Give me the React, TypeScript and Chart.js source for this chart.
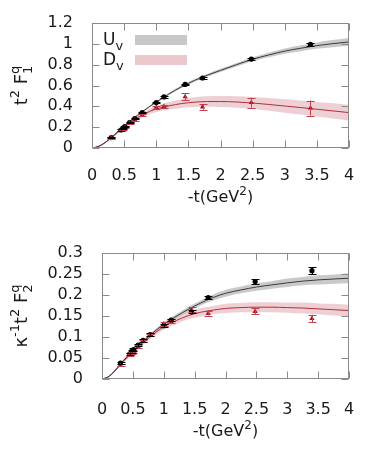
import React, { useEffect, useRef } from "react";
import { Chart, registerables } from "chart.js";

Chart.register(...registerables);

// ---------------- data ----------------
const CURVE_T = [0, 0.1, 0.2, 0.3, 0.4, 0.5, 0.6, 0.7, 0.8, 0.9, 1.0, 1.2, 1.4, 1.6, 1.8, 2.0, 2.25, 2.5, 2.75, 3.0, 3.25, 3.5, 3.75, 4.0];

const F1_UV = [0, 0.015, 0.05, 0.1, 0.155, 0.21, 0.26, 0.31, 0.355, 0.4, 0.44, 0.52, 0.59, 0.65, 0.7, 0.745, 0.8, 0.852, 0.893, 0.93, 0.958, 0.983, 1.002, 1.018];
const F1_UV_ERR = [0, 0.001, 0.002, 0.003, 0.004, 0.005, 0.006, 0.007, 0.008, 0.009, 0.01, 0.011, 0.012, 0.013, 0.014, 0.015, 0.017, 0.019, 0.022, 0.025, 0.028, 0.031, 0.034, 0.037];
const F1_DV = [0, 0.015, 0.05, 0.1, 0.15, 0.2, 0.245, 0.288, 0.322, 0.352, 0.375, 0.405, 0.427, 0.44, 0.446, 0.446, 0.442, 0.432, 0.418, 0.403, 0.388, 0.372, 0.356, 0.34];
const F1_DV_ERR = [0, 0.003, 0.006, 0.01, 0.012, 0.015, 0.018, 0.02, 0.023, 0.026, 0.03, 0.036, 0.042, 0.047, 0.05, 0.053, 0.056, 0.058, 0.061, 0.064, 0.067, 0.07, 0.073, 0.075];

const F2_UV = [0, 0.005, 0.018, 0.036, 0.052, 0.066, 0.08, 0.094, 0.107, 0.119, 0.13, 0.149, 0.166, 0.181, 0.194, 0.204, 0.212, 0.219, 0.224, 0.229, 0.233, 0.236, 0.238, 0.24];
const F2_UV_ERR = [0, 0.001, 0.002, 0.003, 0.003, 0.004, 0.004, 0.004, 0.004, 0.004, 0.005, 0.005, 0.006, 0.006, 0.007, 0.008, 0.008, 0.009, 0.009, 0.01, 0.01, 0.011, 0.011, 0.012];
const F2_DV = [0, 0.005, 0.018, 0.035, 0.05, 0.064, 0.078, 0.091, 0.103, 0.114, 0.124, 0.139, 0.151, 0.159, 0.164, 0.168, 0.17, 0.171, 0.171, 0.17, 0.169, 0.167, 0.165, 0.163];
const F2_DV_ERR = [0, 0.001, 0.002, 0.003, 0.004, 0.004, 0.005, 0.005, 0.006, 0.006, 0.007, 0.008, 0.009, 0.01, 0.01, 0.011, 0.011, 0.012, 0.012, 0.012, 0.013, 0.013, 0.014, 0.014];

const POINT_T = [0.3, 0.45, 0.48, 0.51, 0.585, 0.665, 0.78, 1.0, 1.12, 1.45, 1.72, 2.48, 3.4];

const F1_UV_PTS = [0.1, 0.173, 0.19, 0.205, 0.245, 0.283, 0.34, 0.437, 0.49, 0.61, 0.672, 0.854, 0.995];
const F1_UV_PTS_ERR = [0.008, 0.006, 0.006, 0.006, 0.006, 0.007, 0.008, 0.008, 0.008, 0.008, 0.008, 0.008, 0.012];
const F1_DV_PTS = [0.1, 0.17, 0.185, 0.2, 0.24, 0.275, 0.318, 0.392, 0.398, 0.493, 0.393, 0.436, 0.384];
const F1_DV_PTS_ERR = [0.01, 0.01, 0.01, 0.01, 0.01, 0.012, 0.012, 0.014, 0.012, 0.032, 0.025, 0.048, 0.072];

const F2_UV_PTS = [0.038, 0.06, 0.066, 0.07, 0.081, 0.092, 0.106, 0.127, 0.14, 0.16, 0.194, 0.232, 0.258];
const F2_UV_PTS_ERR = [0.003, 0.003, 0.003, 0.003, 0.003, 0.003, 0.003, 0.003, 0.003, 0.004, 0.004, 0.006, 0.008];
const F2_DV_PTS = [0.033, 0.058, 0.062, 0.065, 0.078, 0.09, 0.105, 0.131, 0.138, 0.165, 0.156, 0.161, 0.144];
const F2_DV_PTS_ERR = [0.003, 0.003, 0.003, 0.003, 0.003, 0.003, 0.003, 0.005, 0.004, 0.006, 0.005, 0.007, 0.009];

const LEGEND_LABELS = ["U", "D"];

// ---------------- styles ----------------
const FONT = "'DejaVu Sans', sans-serif";
const TXT = "#1a1a1a";
const FRAME = "#8a8a8a";
const U_LINE = "#3a3a3a";
const D_LINE = "#b0303c";
const U_BAND = "rgba(165,165,165,0.6)";
const D_BAND = "rgba(222,160,168,0.5)";
const U_PT = "#000000";
const D_PT = "#a8101c";
const D_ERR = "#c04050";

type Seg = { t?: string; sub?: string; sup?: string };

const X_TITLE: Seg[] = [{ t: "-t(GeV" }, { sup: "2" }, { t: ")" }];

function segWidth(ctx: CanvasRenderingContext2D, segs: Seg[], size: number, small: number) {
  let w = 0;
  for (const s of segs) {
    if (s.t) {
      ctx.font = `${size}px ${FONT}`;
      w += ctx.measureText(s.t).width;
    }
    if (s.sub || s.sup) {
      ctx.font = `${small}px ${FONT}`;
      w += Math.max(s.sub ? ctx.measureText(s.sub).width : 0, s.sup ? ctx.measureText(s.sup).width : 0);
    }
  }
  return w;
}

function drawRich(ctx: CanvasRenderingContext2D, segs: Seg[], x: number, y: number, size: number, small: number) {
  let cx = x;
  ctx.textBaseline = "alphabetic";
  ctx.textAlign = "left";
  for (const s of segs) {
    if (s.t) {
      ctx.font = `${size}px ${FONT}`;
      ctx.fillText(s.t, cx, y);
      cx += ctx.measureText(s.t).width;
    }
    if (s.sub || s.sup) {
      ctx.font = `${small}px ${FONT}`;
      let w = 0;
      if (s.sup) {
        ctx.fillText(s.sup, cx, y - size * 0.45);
        w = Math.max(w, ctx.measureText(s.sup).width);
      }
      if (s.sub) {
        ctx.fillText(s.sub, cx, y + size * 0.28);
        w = Math.max(w, ctx.measureText(s.sub).width);
      }
      cx += w;
    }
  }
}

type PanelCfg = {
  ymax: number;
  ystep: number;
  uv: number[];
  uvErr: number[];
  dv: number[];
  dvErr: number[];
  uPts: number[];
  uPtsErr: number[];
  dPts: number[];
  dPtsErr: number[];
  yTitle: Seg[];
  yTitleX: number;
  legend: boolean;
  leftW: number;
  padTop: number;
  padRight: number;
  xH: number;
  xTickPad: number;
  xTitleY: number;
  yTickPad: number;
};

const decorPlugin = {
  id: "decor",
  afterDraw(chart: any) {
    const cfg: PanelCfg = chart.options.plugins.decor;
    const ctx: CanvasRenderingContext2D = chart.ctx;
    const a = chart.chartArea;
    const xs = chart.scales.x;
    const ys = chart.scales.y;
    ctx.save();
    ctx.strokeStyle = FRAME;
    ctx.lineWidth = 1;
    const L = Math.round(a.left) + 0.5;
    const R = Math.round(a.right) - 0.5;
    const T = Math.round(a.top) + 0.5;
    const B = Math.round(a.bottom) - 0.5;
    ctx.strokeRect(L, T, R - L, B - T);
    const len = 7;
    ctx.beginPath();
    for (const tk of xs.ticks) {
      const px = Math.round(xs.getPixelForValue(tk.value)) + 0.5;
      ctx.moveTo(px, B);
      ctx.lineTo(px, B - len);
      ctx.moveTo(px, T);
      ctx.lineTo(px, T + len);
    }
    for (const tk of ys.ticks) {
      const py = Math.round(ys.getPixelForValue(tk.value)) + 0.5;
      ctx.moveTo(L, py);
      ctx.lineTo(L + len, py);
      ctx.moveTo(R, py);
      ctx.lineTo(R - len, py);
    }
    ctx.stroke();

    // x title
    ctx.fillStyle = TXT;
    const xw = segWidth(ctx, X_TITLE, 16, 12);
    drawRich(ctx, X_TITLE, (a.left + a.right) / 2 - xw / 2, cfg.xTitleY + 6, 16, 12);

    // y title (rotated)
    const w = segWidth(ctx, cfg.yTitle, 18, 13);
    ctx.save();
    ctx.translate(cfg.yTitleX, (a.top + a.bottom) / 2);
    ctx.rotate(-Math.PI / 2);
    drawRich(ctx, cfg.yTitle, -w / 2, 6, 18, 13);
    ctx.restore();

    if (cfg.legend) {
      const items = [
        { c: "rgba(200,200,200,1)", y: 40 },
        { c: "rgba(236,200,204,1)", y: 60 },
      ];
      items.forEach((it, i) => {
        ctx.fillStyle = TXT;
        drawRich(ctx, [{ t: LEGEND_LABELS[i], sub: "v" }], a.left + 11, it.y + 5, 17, 13);
        ctx.fillStyle = it.c;
        ctx.fillRect(a.left + 43, it.y - 5, 52, 10);
      });
    }
    ctx.restore();
  },
  afterDatasetsDraw(chart: any) {
    const cfg: PanelCfg = chart.options.plugins.decor;
    const ctx: CanvasRenderingContext2D = chart.ctx;
    const xs = chart.scales.x;
    const ys = chart.scales.y;
    ctx.save();
    ctx.lineWidth = 1;
    const draw = (vals: number[], errs: number[], color: string) => {
      ctx.strokeStyle = color;
      ctx.beginPath();
      POINT_T.forEach((t, i) => {
        const px = Math.round(xs.getPixelForValue(t)) + 0.5;
        const y1 = ys.getPixelForValue(vals[i] - errs[i]);
        const y2 = ys.getPixelForValue(vals[i] + errs[i]);
        ctx.moveTo(px, y1);
        ctx.lineTo(px, y2);
        ctx.moveTo(px - 4, Math.round(y1) + 0.5);
        ctx.lineTo(px + 4, Math.round(y1) + 0.5);
        ctx.moveTo(px - 4, Math.round(y2) + 0.5);
        ctx.lineTo(px + 4, Math.round(y2) + 0.5);
      });
      ctx.stroke();
    };
    draw(cfg.dPts, cfg.dPtsErr, D_ERR);
    draw(cfg.uPts, cfg.uPtsErr, U_PT);
    ctx.restore();
  },
};

const fmt = (v: any) => String(Number(Number(v).toFixed(4)));

function makeConfig(cfg: PanelCfg): any {
  const band = (c: number[], e: number[], color: string, order: number) => [
    {
      data: CURVE_T.map((t, i) => ({ x: t, y: c[i] - e[i] })),
      borderWidth: 0,
      pointRadius: 0,
      fill: false,
      order,
      cubicInterpolationMode: "monotone",
    },
    {
      data: CURVE_T.map((t, i) => ({ x: t, y: c[i] + e[i] })),
      borderWidth: 0,
      pointRadius: 0,
      fill: "-1",
      backgroundColor: color,
      order,
      cubicInterpolationMode: "monotone",
    },
  ];
  const line = (c: number[], color: string) => ({
    data: CURVE_T.map((t, i) => ({ x: t, y: c[i] })),
    borderColor: color,
    borderWidth: 1,
    pointRadius: 0,
    fill: false,
    order: 2,
    cubicInterpolationMode: "monotone",
  });
  const pts = (v: number[], color: string, style: string, r: number) => ({
    data: POINT_T.map((t, i) => ({ x: t, y: v[i] })),
    showLine: false,
    pointStyle: style,
    pointRadius: r,
    backgroundColor: color,
    borderColor: color,
    borderWidth: 0,
    order: 1,
  });
  const tickFont = { family: FONT, size: 16 };
  return {
    type: "line",
    data: {
      datasets: [
        ...band(cfg.uv, cfg.uvErr, U_BAND, 4),
        ...band(cfg.dv, cfg.dvErr, D_BAND, 3),
        line(cfg.uv, U_LINE),
        line(cfg.dv, D_LINE),
        pts(cfg.dPts, D_PT, "triangle", 3),
        pts(cfg.uPts, U_PT, "circle", 2.6),
      ],
    },
    options: {
      animation: false,
      responsive: false,
      devicePixelRatio: 1,
      layout: { padding: { left: 0, right: cfg.padRight, top: cfg.padTop, bottom: 0 } },
      plugins: {
        legend: { display: false },
        tooltip: { enabled: false },
        decor: cfg,
      },
      scales: {
        x: {
          type: "linear",
          min: 0,
          max: 4,
          ticks: { stepSize: 0.5, font: tickFont, color: TXT, padding: cfg.xTickPad, maxRotation: 0, autoSkip: false, callback: fmt },
          grid: { display: false },
          border: { display: false },
          afterFit: (s: any) => {
            s.height = cfg.xH;
          },
        },
        y: {
          type: "linear",
          min: 0,
          max: cfg.ymax,
          ticks: { stepSize: cfg.ystep, font: tickFont, color: TXT, padding: cfg.yTickPad, autoSkip: false, callback: fmt },
          grid: { display: false },
          border: { display: false },
          afterFit: (s: any) => {
            s.width = cfg.leftW;
          },
        },
      },
    },
    plugins: [decorPlugin],
  };
}

function Panel({ top, height, cfg }: { top: number; height: number; cfg: PanelCfg }) {
  const ref = useRef<HTMLCanvasElement | null>(null);
  useEffect(() => {
    if (!ref.current) return;
    const chart = new Chart(ref.current, makeConfig(cfg));
    return () => chart.destroy();
  }, []);
  return (
    <canvas
      ref={ref}
      width={382}
      height={height}
      style={{ position: "absolute", left: 0, top, width: 382, height }}
    />
  );
}

const TOP_CFG: PanelCfg = {
  ymax: 1.2,
  ystep: 0.2,
  uv: F1_UV,
  uvErr: F1_UV_ERR,
  dv: F1_DV,
  dvErr: F1_DV_ERR,
  uPts: F1_UV_PTS,
  uPtsErr: F1_UV_PTS_ERR,
  dPts: F1_DV_PTS,
  dPtsErr: F1_DV_PTS_ERR,
  yTitle: [{ t: "t" }, { sup: "2" }, { t: " F" }, { sub: "1", sup: "q" }],
  yTitleX: 21,
  legend: true,
  leftW: 92,
  padTop: 23,
  padRight: 33,
  xH: 72,
  xTickPad: 10,
  xTitleY: 196,
  yTickPad: 11,
};

const BOTTOM_CFG: PanelCfg = {
  ymax: 0.3,
  ystep: 0.05,
  uv: F2_UV,
  uvErr: F2_UV_ERR,
  dv: F2_DV,
  dvErr: F2_DV_ERR,
  uPts: F2_UV_PTS,
  uPtsErr: F2_UV_PTS_ERR,
  dPts: F2_DV_PTS,
  dPtsErr: F2_DV_PTS_ERR,
  yTitle: [{ t: "κ" }, { sup: "-1" }, { t: "t" }, { sup: "2" }, { t: " F" }, { sub: "2", sup: "q" }],
  yTitleX: 21,
  legend: false,
  leftW: 102,
  padTop: 33,
  padRight: 33,
  xH: 84,
  xTickPad: 13,
  xTitleY: 210,
  yTickPad: 11,
};

export default function App() {
  return (
    <div style={{ position: "absolute", left: 0, top: 0, width: 382, height: 463, background: "#fff" }}>
      <Panel top={0} height={220} cfg={TOP_CFG} />
      <Panel top={220} height={243} cfg={BOTTOM_CFG} />
    </div>
  );
}
